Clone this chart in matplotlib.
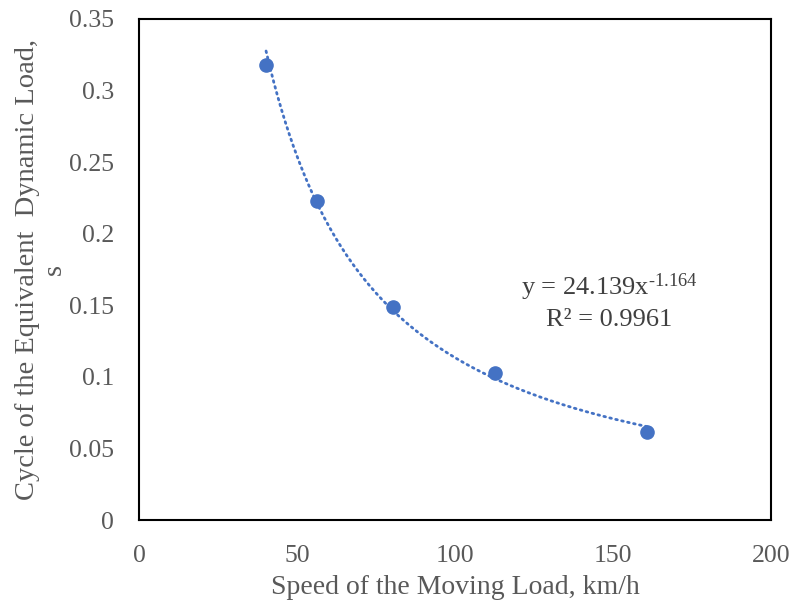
import matplotlib
matplotlib.use("Agg")
import matplotlib.pyplot as plt
import numpy as np

speed = [40.2, 56.3, 80.5, 112.7, 160.9]
cycle = [0.318, 0.223, 0.149, 0.103, 0.0615]
coef_a = 24.139
coef_b = -1.164
r2 = 0.9961
xticks = [0, 50, 100, 150, 200]
yticks = [0, 0.05, 0.1, 0.15, 0.2, 0.25, 0.3, 0.35]
ytick_labels = ["0", "0.05", "0.1", "0.15", "0.2", "0.25", "0.3", "0.35"]

plt.rcParams["font.family"] = ["Liberation Serif", "DejaVu Serif"]
plt.rcParams["mathtext.fontset"] = "custom"
plt.rcParams["mathtext.rm"] = "Liberation Serif"
plt.rcParams["mathtext.it"] = "Liberation Serif"

grey = "#595959"
blue = "#4472C4"

fig = plt.figure(figsize=(7.99, 6.07), dpi=100)
ax = fig.add_axes([0.174, 0.1433, 0.791, 0.8254])

# power trendline
xs = np.linspace(speed[0], speed[-1], 200)
ax.plot(xs, coef_a * xs ** coef_b, color=blue, lw=2, ls=(0, (0.6, 1.6)),
        dash_capstyle="round")
ax.scatter(speed, cycle, s=90, color=blue, zorder=3)

ax.set_xlim(0, 200)
ax.set_ylim(0, 0.35)
ax.set_xticks(xticks)
ax.set_yticks(yticks)
ax.set_yticklabels(ytick_labels)
ax.tick_params(length=0, labelsize=18.5, labelcolor=grey)
ax.tick_params(axis="x", pad=18)
ax.tick_params(axis="y", pad=18)
for s in ax.spines.values():
    s.set_color("black")
    s.set_linewidth(1.5)

ax.set_xlabel("Speed of the Moving Load, km/h", fontsize=20, color=grey, labelpad=6)
fig.text(41 / 799, 1 - 270 / 607, "Cycle of the Equivalent  Dynamic Load,\ns",
         rotation=90, fontsize=20.5, color=grey, ha="center", va="center",
         multialignment="center", linespacing=1.1)

ax.text(148.7, 0.1628, "y = 24.139x$^{\u2010\\mathrm{1.164}}$", fontsize=19,
        color="#404040", ha="center", va="center")
ax.text(148.7, 0.1398, "R² = %.4f" % r2, fontsize=19, color="#404040",
        ha="center", va="center")

fig.savefig("out.png", dpi=100)
